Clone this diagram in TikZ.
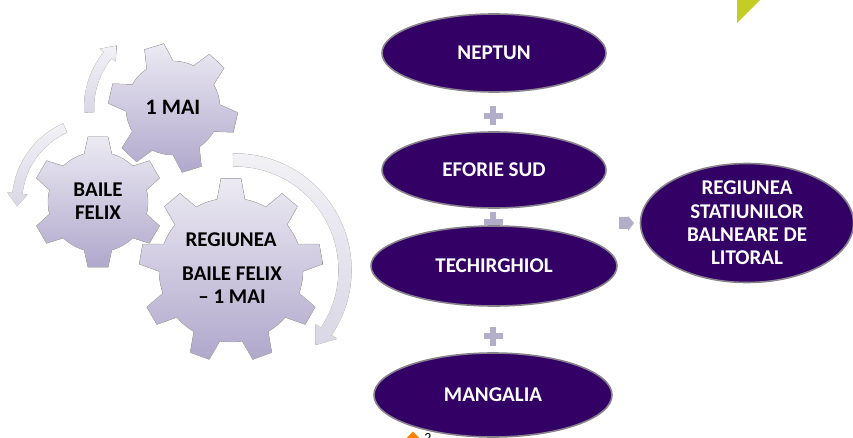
\documentclass[tikz,border=0pt]{standalone}
\usepackage{fontspec}
\setmainfont{Carlito}
\usetikzlibrary{shapes.geometric,calc}
\definecolor{bubblecolor}{RGB}{51, 0, 102}
\definecolor{rimcolor}{RGB}{135, 130, 140}
\definecolor{markcolor}{RGB}{178, 174, 200}
\definecolor{geartop}{RGB}{236, 234, 243}
\definecolor{gearbot}{RGB}{176, 168, 204}
\definecolor{flowtop}{RGB}{242, 241, 246}
\definecolor{flowbot}{RGB}{218, 215, 230}
\definecolor{cornercolor}{RGB}{196, 204, 40}
% gear outline: centre x, y, root radius, tip radius, teeth, first tooth angle
\newcommand{\gearshape}[7][]{%
    \pgfmathsetmacro{\gstep}{360/#6}
    \pgfmathsetmacro{\groot}{800/#4}
    \pgfmathsetmacro{\gtip}{580/#5}
    \fill[#1] (#2, #3) ++(#7-\groot:#4)
    \foreach \t in {1,...,#6} {
        -- ($(#2, #3)+(#7+\t*\gstep-\gstep-\gtip:#5)$)
        -- ($(#2, #3)+(#7+\t*\gstep-\gstep+\gtip:#5)$)
        -- ($(#2, #3)+(#7+\t*\gstep-\gstep+\groot:#4)$)
        arc[start angle=#7+\t*\gstep-\gstep+\groot, end angle=#7+\t*\gstep-\groot, radius=#4]
    } -- cycle;
}
% curved flow arrow: centre x, y, radius, width, start angle, end angle, direction
\newcommand{\flowarrow}[7]{%
    \pgfmathsetmacro{\fin}{#3-#4/2}
    \pgfmathsetmacro{\fout}{#3+#4/2}
    \pgfmathsetmacro{\fneck}{#6-#7*9}
    \fill[flowstyle] (#1, #2) ++(#5:\fout)
        arc[start angle=#5, end angle=\fneck, radius=\fout]
        -- ($(#1, #2)+(\fneck:#3+#4)$)
        -- ($(#1, #2)+(#6:#3)$)
        -- ($(#1, #2)+(\fneck:#3-#4)$)
        -- ($(#1, #2)+(\fneck:\fin)$)
        arc[start angle=\fneck, end angle=#5, radius=\fin] -- cycle;
}
\begin{document}
\begin{tikzpicture}[
    x=1pt, y=-1pt,
    bubble/.style={ellipse, draw=rimcolor, line width=1.6pt, fill=bubblecolor, text=white, font=\bfseries\fontsize{21}{23}\selectfont, align=center, inner sep=0pt},
    gearface/.style={top color=geartop, bottom color=gearbot, draw=gray!60, line width=0.4pt},
    flowstyle/.style={top color=flowtop, bottom color=flowbot, draw=gray!25, line width=0.4pt},
    gearlabel/.style={font=\bfseries\fontsize{21}{23}\selectfont, text=black, align=center},
    plusbar/.style={fill=markcolor, inner sep=0pt}
]
    \useasboundingbox (0, 0) rectangle (853, 438);
    \clip (0, 0) rectangle (853, 438);

    % Corner marks
    \fill[cornercolor] (737, 0) -- (760, 0) -- (737, 23) -- cycle;
    \node[diamond, fill=orange, minimum size=17pt, inner sep=0pt] (corner) at (413, 440) {};
    \node[font=\fontsize{14}{14}\selectfont] (pageno) at (428, 438) {2};

    % Flow arrows
    \flowarrow{173}{108}{84}{10}{-183}{-132}{1}
    \flowarrow{98}{202}{81}{10}{-114}{-183}{-1}
    \flowarrow{235}{270}{110}{13}{-91}{43}{1}

    % Gears
    \gearshape[gearface]{173}{108}{47}{65}{6}{-107}
    \gearshape[gearface]{98}{202}{50}{66}{6}{-90}
    \gearshape[gearface]{231}{270}{72}{92}{9}{-90}
    \node[gearlabel, font=\bfseries\fontsize{22}{23}\selectfont] (maigear) at (173, 107) {1 MAI};
    \node[gearlabel] (felixgear) at (98, 201) {BAILE\\FELIX};
    \node[gearlabel] (regiongear) at (231, 240) {REGIUNEA};
    \node[gearlabel] (felixmai) at (232, 285) {BAILE FELIX\\– 1 MAI};

    % Plus marks
    \foreach \y in {116, 222, 336} {
        \node[plusbar, minimum width=19pt, minimum height=6pt] at (493, \y) {};
        \node[plusbar, minimum width=6pt, minimum height=19pt] at (493, \y) {};
    }

    % Result arrow
    \fill[markcolor] (619, 217) -- (628, 217) -- (628, 216) -- (634, 223) -- (628, 231) -- (628, 229) -- (619, 229) -- cycle;

    % Resorts
    \node[bubble, minimum width=224pt, minimum height=78pt] (neptun) at (494, 53) {NEPTUN};
    \node[bubble, minimum width=224pt, minimum height=76pt] (eforie) at (494, 170) {EFORIE SUD};
    \node[bubble, minimum width=246pt, minimum height=80pt] (techir) at (494, 266) {TECHIRGHIOL};
    \node[bubble, minimum width=238pt, minimum height=84pt] (mangalia) at (493, 395) {MANGALIA};
    \node[bubble, minimum width=213pt, minimum height=119pt, font=\bfseries\fontsize{21}{23.3}\selectfont] (region) at (747, 223) {REGIUNEA\\STATIUNILOR\\BALNEARE DE\\LITORAL};
\end{tikzpicture}
\end{document}
